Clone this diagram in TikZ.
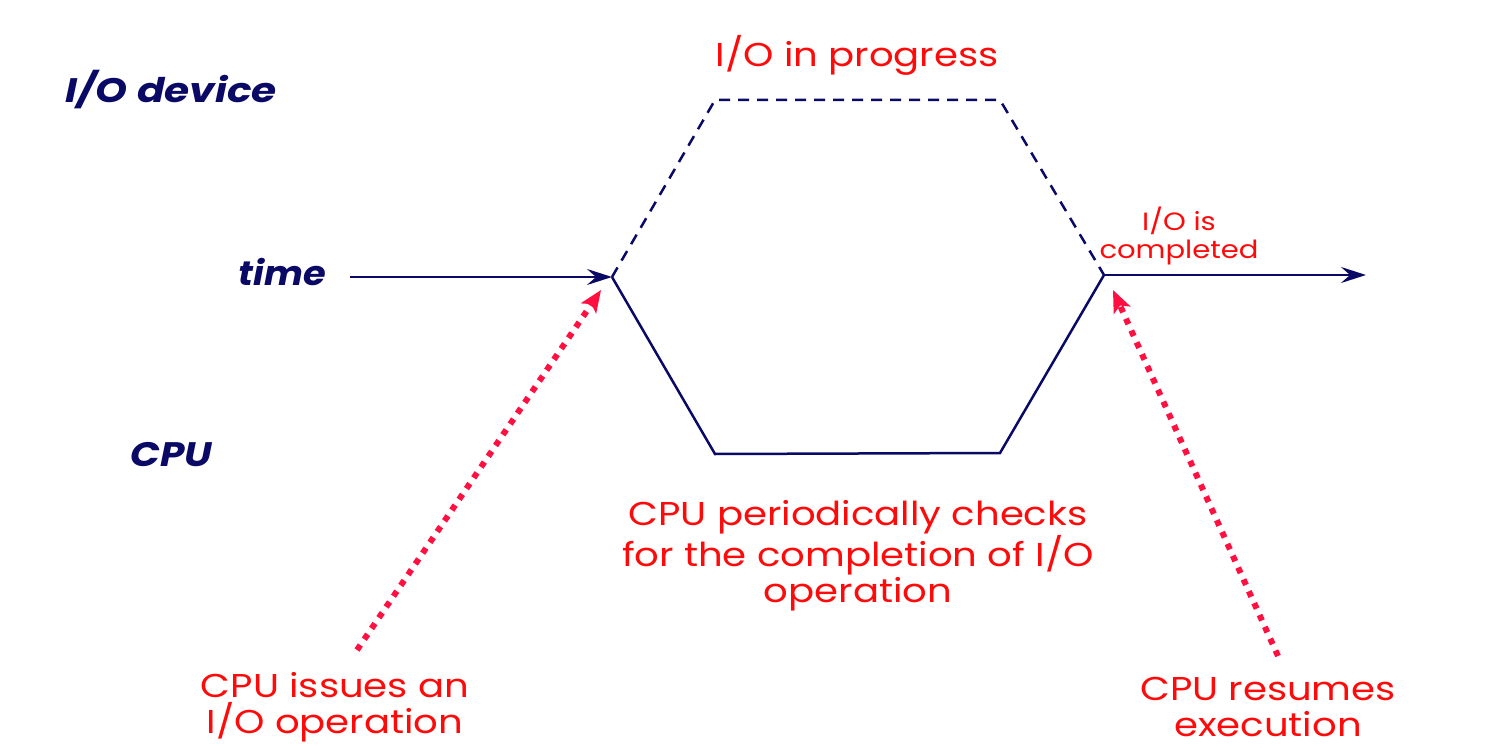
\documentclass[tikz,border=0pt]{standalone}
\usepackage{fontspec}
\setmainfont{Poppins}
\usetikzlibrary{arrows.meta}
\definecolor{navy}{HTML}{0A0A66}
\definecolor{txtred}{HTML}{FF0A0A}
\definecolor{dotred}{HTML}{FF1040}
\tikzset{
  lbl/.style={text=navy, font=\fontsize{34}{40}\selectfont\bfseries\itshape, inner sep=0pt, xscale=1.15, transform shape},
  note/.style={text=txtred, font=\fontsize{33}{36}\selectfont, align=center, inner sep=0pt, xscale=1.17, transform shape},
  smallnote/.style={text=txtred, font=\fontsize{25}{28}\selectfont, align=center, inner sep=0pt, xscale=1.16, transform shape},
  cpuline/.style={draw=navy, line width=2.5pt, line join=miter},
  ioline/.style={draw=navy, line width=2.5pt, dash pattern=on 11pt off 8pt},
  timearrow/.style={draw=navy, line width=2.5pt, -{Stealth[length=25pt,width=16pt,inset=9pt]}},
  dotarrow/.style={draw=dotred, line width=6pt, dash pattern=on 6pt off 7pt, -{Stealth[length=22pt,width=18pt,inset=5pt]}},
}
\begin{document}
\begin{tikzpicture}[x=1pt,y=-1pt]
\useasboundingbox (0,0) rectangle (1486,749);
% coordinates
\coordinate (tstart) at (350,277);
\coordinate (a) at (612,277);
\coordinate (b) at (715,454);
\coordinate (c) at (1000,453);
\coordinate (d) at (1104,275);
\coordinate (tend) at (1366,275);
\coordinate (up1) at (715,100);
\coordinate (up2) at (1000,100);
\coordinate (s1) at (357,650);
\coordinate (e1) at (601,290);
\coordinate (s2) at (1278,656);
\coordinate (e2) at (1113,290);
% labels
\node[lbl, anchor=west, xscale=1.04] (iodev) at (65,90) {I/O device};
\node[lbl, anchor=east, xscale=0.94] (time) at (326,272) {time};
\node[lbl, anchor=west] (cpu) at (130,455) {CPU};
\node[note] (prog) at (857,55) {I/O in progress};
\node[smallnote] (done) at (1179,236) {I/O is\\completed};
\node[note] (check) at (858,556) {CPU periodically checks\\for the completion of I/O\\operation};
\node[note] (issue) at (335,707) {CPU issues an\\I/O operation};
\node[note] (resume) at (1268,707) {CPU resumes\\execution};
% lines
\draw[timearrow] (tstart) -- (a);
\draw[cpuline] (a) -- (b) -- (c) -- (d);
\draw[timearrow] (d) -- (tend);
\draw[ioline] (a) -- (up1) -- (up2) -- (d);
\draw[dotarrow] (s1) -- (e1);
\draw[dotarrow] (s2) -- (e2);
\end{tikzpicture}
\end{document}
